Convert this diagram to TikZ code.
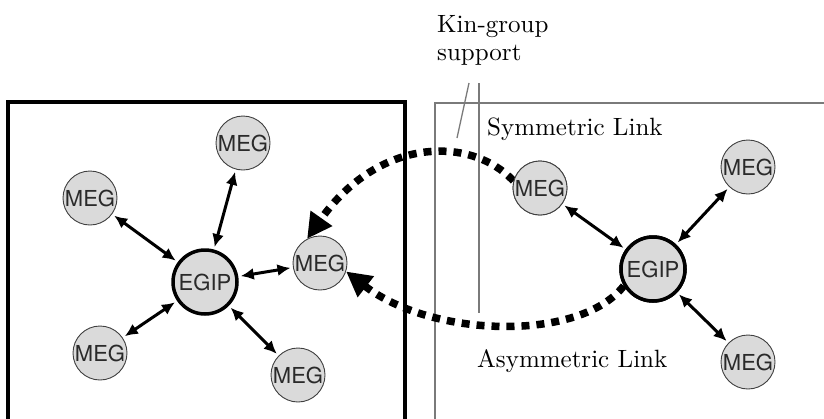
\documentclass[tikz,border=0pt]{standalone}
\usepackage{fontspec}
\newfontfamily\nodefont{TeX Gyre Heros}
\newfontfamily\labelfont[Extension=.otf]{lmroman10-regular}
\usetikzlibrary{arrows.meta}
\definecolor{nodefill}{HTML}{DADADA}
\definecolor{nodetext}{HTML}{2A2A2A}
\definecolor{framegray}{HTML}{7A7A7A}
\tikzset{
  meg/.style={circle, draw=black!75, line width=0.9pt, fill=nodefill,
    minimum size=54pt, inner sep=0pt, text=nodetext,
    font=\nodefont\fontsize{22}{22}\selectfont},
  egip/.style={meg, draw=black, line width=3.5pt, minimum size=64pt},
  biarrow/.style={line width=3pt,
    {Latex[length=13pt,width=12pt]}-{Latex[length=13pt,width=12pt]},
    shorten <=2.5pt, shorten >=2.5pt},
  kinlink/.style={line width=7.5pt, dash pattern=on 8pt off 7pt,
    -{Triangle[length=25pt,width=25pt]}},
  textlabel/.style={inner sep=0pt, font=\labelfont\fontsize{25}{28}\selectfont},
  leader/.style={draw=framegray, line width=1.3pt}
}
\begin{document}
\begin{tikzpicture}[x=1pt,y=-1pt]
  \useasboundingbox (0,0) rectangle (824,418);

  % group frames
  \draw[line width=4pt] (8,430) -- (8,102) -- (405,102) -- (405,430);
  \draw[draw=framegray, line width=1.4pt] (435,430) -- (435,103) -- (830,103);

  % left group
  \node[egip] (lE) at (205,282) {EGIP};
  \node[meg] (lM1) at (243,143) {MEG};
  \node[meg] (lM2) at (90,198) {MEG};
  \node[meg] (lM3) at (320,263) {MEG};
  \node[meg] (lM4) at (100,353) {MEG};
  \node[meg] (lM5) at (298,375) {MEG};

  % right group
  \node[egip] (rE) at (653,269) {EGIP};
  \node[meg] (rM1) at (540,188) {MEG};
  \node[meg] (rM2) at (748,167) {MEG};
  \node[meg] (rM3) at (748,362) {MEG};

  % links between the two groups, then the circles they leave redrawn on top
  \draw[kinlink] (rM1.165) .. controls (470,135) and (378,138) .. (lM3.118);
  \draw[kinlink] (rE.210) .. controls (580,342) and (432,338) .. (lM3.-18);
  \node[meg] at (rM1) {MEG};
  \node[egip] at (rE) {EGIP};

  % links inside each group
  \foreach \m in {lM1,lM2,lM3,lM4,lM5} \draw[biarrow] (lE) -- (\m);
  \foreach \m in {rM1,rM2,rM3} \draw[biarrow] (rE) -- (\m);

  % labels
  \node[textlabel, anchor=north west, align=left] (kin) at (437,15) {Kin-group\\support};
  \node[textlabel, anchor=base west] (sym) at (487,135) {Symmetric Link};
  \node[textlabel, anchor=base west] (asym) at (477,367) {Asymmetric Link};

  % leaders from the kin-group label
  \coordinate (kinA) at (469,83);
  \coordinate (kinAend) at (457,138);
  \coordinate (kinB) at (479,83);
  \coordinate (kinBend) at (479,313);
  \draw[leader] (kinA) -- (kinAend);
  \draw[leader] (kinB) -- (kinBend);
\end{tikzpicture}
\end{document}
